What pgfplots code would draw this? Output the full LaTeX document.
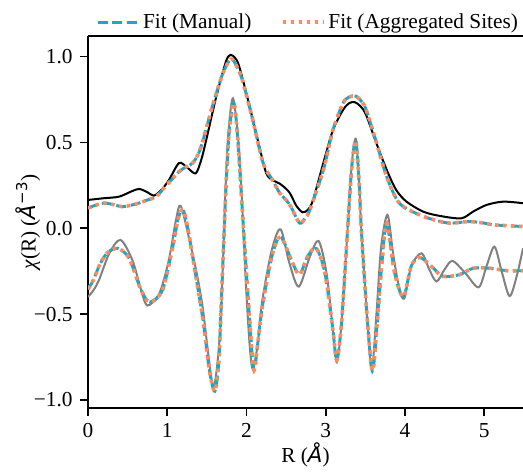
\documentclass[border=0pt]{standalone}
\usepackage{fontspec}
\setmainfont{Liberation Serif}
\newfontfamily\djv{DejaVu Sans}
\usepackage{pgfplots}
\pgfplotsset{compat=1.18}
\definecolor{fitc}{HTML}{1BA8C8}
\definecolor{fito}{HTML}{FA8C5F}
\definecolor{dgray}{HTML}{808080}

\pgfplotstableread{
x y
0.00 0.165
0.20 0.175
0.39 0.184
0.55 0.215
0.645 0.229
0.75 0.21
0.83 0.19
0.92 0.22
1.02 0.28
1.15 0.38
1.26 0.35
1.36 0.32
1.43 0.40
1.49 0.51
1.61 0.75
1.74 0.97
1.80 1.01
1.86 0.99
1.91 0.94
2.04 0.71
2.16 0.48
2.25 0.32
2.33 0.28
2.42 0.26
2.54 0.21
2.63 0.13
2.71 0.093
2.78 0.11
2.84 0.165
2.97 0.38
3.09 0.57
3.22 0.69
3.30 0.73
3.37 0.734
3.44 0.71
3.51 0.66
3.64 0.495
3.77 0.34
3.89 0.223
4.02 0.155
4.23 0.097
4.44 0.072
4.71 0.058
4.86 0.097
5.03 0.136
5.24 0.155
5.49 0.146
}\magdata

\pgfplotstableread{
x y
0.00 -0.40
0.07 -0.36
0.14 -0.30
0.27 -0.145
0.41 -0.068
0.56 -0.185
0.67 -0.36
0.75 -0.45
0.90 -0.38
1.02 -0.185
1.11 0.048
1.17 0.13
1.28 -0.068
1.38 -0.28
1.45 -0.47
1.52 -0.74
1.58 -0.93
1.63 -0.80
1.68 -0.49
1.74 0.28
1.78 0.60
1.83 0.757
1.89 0.55
1.93 0.28
1.99 -0.30
2.04 -0.68
2.08 -0.82
2.14 -0.68
2.20 -0.42
2.32 -0.126
2.43 -0.006
2.54 -0.20
2.66 -0.34
2.80 -0.165
2.91 -0.074
3.01 -0.26
3.09 -0.59
3.14 -0.78
3.20 -0.55
3.27 -0.05
3.33 0.38
3.38 0.52
3.42 0.28
3.45 -0.01
3.52 -0.50
3.58 -0.826
3.64 -0.50
3.70 -0.107
3.78 0.078
3.85 -0.146
3.92 -0.33
3.99 -0.41
4.08 -0.22
4.21 -0.146
4.31 -0.243
4.40 -0.31
4.50 -0.24
4.60 -0.19
4.76 -0.26
4.93 -0.344
5.03 -0.22
5.13 -0.107
5.22 -0.25
5.32 -0.395
5.41 -0.28
5.49 -0.117
}\imdata

\pgfplotstableread{
x y
0.00 0.118
0.10 0.135
0.20 0.147
0.30 0.14
0.43 0.126
0.55 0.135
0.645 0.147
0.75 0.165
0.86 0.184
0.97 0.24
1.15 0.33
1.25 0.36
1.32 0.38
1.39 0.43
1.45 0.51
1.57 0.71
1.70 0.90
1.80 0.985
1.87 0.95
1.95 0.86
2.08 0.63
2.21 0.38
2.33 0.28
2.42 0.205
2.50 0.165
2.56 0.126
2.67 0.03
2.74 0.06
2.80 0.107
2.97 0.34
3.09 0.57
3.22 0.73
3.30 0.765
3.38 0.77
3.45 0.74
3.51 0.69
3.64 0.50
3.77 0.30
3.93 0.146
4.19 0.077
4.40 0.045
4.57 0.03
4.82 0.039
5.00 0.03
5.11 0.02
5.30 0.015
5.49 0.01
}\magfit

\pgfplotstableread{
x y
0.00 -0.355
0.07 -0.30
0.15 -0.21
0.25 -0.14
0.38 -0.117
0.50 -0.16
0.56 -0.22
0.67 -0.36
0.78 -0.43
0.94 -0.36
1.07 -0.107
1.14 0.06
1.20 0.107
1.26 0.0
1.32 -0.165
1.45 -0.53
1.53 -0.82
1.60 -0.95
1.65 -0.78
1.68 -0.46
1.74 0.22
1.78 0.55
1.84 0.73
1.89 0.52
1.95 0.087
2.02 -0.40
2.09 -0.82
2.14 -0.68
2.20 -0.457
2.32 -0.165
2.43 -0.05
2.58 -0.20
2.67 -0.27
2.77 -0.165
2.88 -0.117
2.99 -0.26
3.09 -0.59
3.14 -0.767
3.20 -0.55
3.27 -0.05
3.33 0.36
3.38 0.51
3.42 0.28
3.45 -0.01
3.52 -0.50
3.59 -0.83
3.65 -0.55
3.71 -0.20
3.77 0.029
3.87 -0.26
3.98 -0.40
4.08 -0.22
4.19 -0.17
4.36 -0.233
4.48 -0.28
4.69 -0.27
4.86 -0.233
5.07 -0.233
5.29 -0.247
5.49 -0.247
}\imfit

\begin{document}
\fontsize{16}{19}\selectfont
\begin{tikzpicture}
\useasboundingbox (0,0) rectangle (392.25pt,353.25pt);
\clip (0,0) rectangle (392.25pt,353.25pt);
\begin{axis}[
  at={(66pt,47.25pt)}, anchor=south west,
  scale only axis, width=326.25pt, height=279pt,
  xmin=0, xmax=5.49, ymin=-1.047, ymax=1.12,
  axis x line*=box, axis y line*=left,
  xtick pos=bottom, ytick pos=left,
  tick align=outside, major tick length=6pt,
  axis line style={line width=1.2pt, black},
  every tick/.style={line width=1.2pt, black},
  xtick={0,1,2,3,4,5}, xticklabels={0,1,2,3,4,5},
  ytick={-1,-0.5,0,0.5,1}, yticklabels={−1.0,−0.5,0.0,0.5,1.0},
  tick label style={font=\fontsize{16}{19}\selectfont},
  xlabel={R ({\djv\itshape Å})},
  ylabel={{\itshape χ}(R) ({\djv\itshape Å}\textsuperscript{\djv −3})},
  every axis x label/.style={at={(axis description cs:0.5,-0.126)}, anchor=center, font=\fontsize{16}{19}\selectfont},
  every axis y label/.style={at={(axis description cs:-0.138,0.5)}, anchor=center, rotate=90, font=\fontsize{16}{19}\selectfont},
  legend columns=2,
  legend style={at={(axis description cs:0.018,1.037)}, anchor=west, draw=none, fill=none,
    font=\fontsize{16}{19}\selectfont, inner sep=0pt,
    /tikz/every even column/.append style={column sep=20pt}},
  legend image code/.code={\draw[#1] (0pt,0pt) -- (31pt,0pt);},
]
\addplot[black, line width=1.5pt, smooth, forget plot] table {\magdata};
\addplot[dgray, line width=1.5pt, smooth, forget plot] table {\imdata};
\addplot[fitc, line width=2.2pt, smooth, dash pattern=on 7.5pt off 3.5pt] table {\magfit};
\addlegendentry{Fit (Manual)}
\addplot[fitc, line width=2.2pt, smooth, dash pattern=on 7.5pt off 3.5pt, forget plot] table {\imfit};
\addplot[fito, line width=2.7pt, smooth, dash pattern=on 2.7pt off 3.3pt] table {\magfit};
\addlegendentry{Fit (Aggregated Sites)}
\addplot[fito, line width=2.7pt, smooth, dash pattern=on 2.7pt off 3.3pt, forget plot] table {\imfit};
\end{axis}
\end{tikzpicture}
\end{document}
